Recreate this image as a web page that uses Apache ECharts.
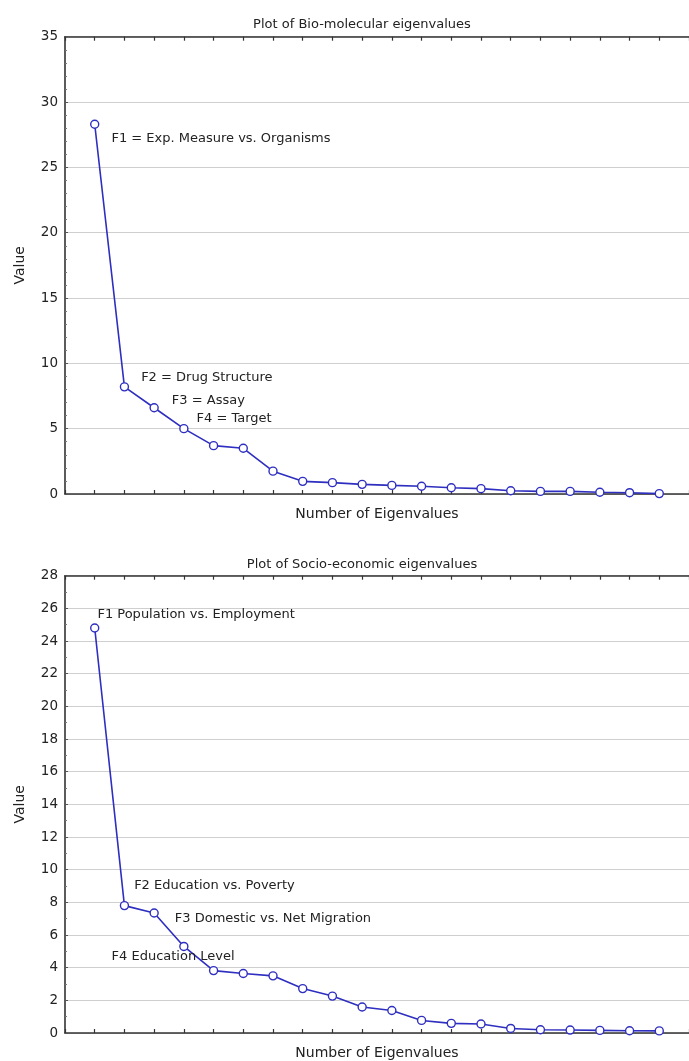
<!DOCTYPE html>
<html>
<head>
<meta charset="utf-8">
<script src="https://cdn.jsdelivr.net/npm/echarts@6/dist/echarts.min.js"></script>
<style>
html,body{margin:0;padding:0;background:#fff;}
#main{width:689px;height:1061px;}
</style>
</head>
<body>
<div id="main"></div>
<script>
// ---- data ----
const eigenNumbers = [1,2,3,4,5,6,7,8,9,10,11,12,13,14,15,16,17,18,19,20];
const bioValues = [28.3,8.2,6.6,5.0,3.7,3.5,1.75,0.97,0.87,0.74,0.66,0.59,0.48,0.41,0.25,0.2,0.2,0.13,0.1,0.03];
const socioValues = [24.8,7.8,7.35,5.3,3.82,3.64,3.5,2.72,2.26,1.59,1.38,0.77,0.59,0.55,0.28,0.2,0.18,0.16,0.14,0.13];
const bioTitle = 'Plot of Bio-molecular eigenvalues';
const socioTitle = 'Plot of Socio-economic eigenvalues';
const bioNotes = ['F1 = Exp. Measure vs. Organisms','F2 = Drug Structure','F3 = Assay','F4 = Target'];
const socioNotes = ['F1 Population vs. Employment','F2 Education vs. Poverty','F3 Domestic vs. Net Migration','F4 Education Level'];
const xName = 'Number of Eigenvalues';
const yName = 'Value';

// ---- styling / layout (not data) ----
const FONT = 'DejaVu Sans';
const TEXT = '#222';
const LINE = '#2e2ec0';
const bioOffsets = [[7,14],[7,-9],[8,-7],[3,-10]];
const socioOffsets = [[-7,-13],[0,-20],[11,6],[-82,10]];

function buildData(values, notes, offsets){
  return eigenNumbers.map((n,i)=>{
    const item = {value:[n, values[i]]};
    if (i < notes.length){
      item.label = {show:true, position:'right', formatter:notes[i], offset:offsets[i],
        color:TEXT, fontFamily:FONT, fontSize:13};
    }
    return item;
  });
}

const grids = [
  {left:65, top:36.7, height:457.3, right:-7},
  {left:65, top:575.7, height:458.6, right:-7}
];

function xAxes(gi){
  return [
    {type:'value', gridIndex:gi, position:'bottom', min:0, max:21, interval:1,
     axisLine:{show:true, lineStyle:{color:'#333', width:1.6}},
     axisTick:{show:true, inside:true, length:4, lineStyle:{color:'#333', width:1.2}},
     axisLabel:{show:false}, splitLine:{show:false},
     name:xName, nameLocation:'middle', nameGap:13,
     nameTextStyle:{color:TEXT, fontFamily:FONT, fontSize:14, verticalAlign:'top'}},
    {type:'value', gridIndex:gi, position:'top', min:0, max:21, interval:1,
     axisLine:{show:true, onZero:false, lineStyle:{color:'#333', width:1.6}},
     axisTick:{show:true, inside:true, length:4, lineStyle:{color:'#333', width:1.2}},
     axisLabel:{show:false}, splitLine:{show:false}}
  ];
}
function yAxis(gi, max, interval, minorSplit){
  return {type:'value', gridIndex:gi, min:0, max:max, interval:interval,
    axisLine:{show:true, lineStyle:{color:'#333', width:1.6}},
    axisTick:{show:true, inside:true, length:3, lineStyle:{color:'#555'}},
    minorTick:{show:true, splitNumber:minorSplit, length:2, lineStyle:{color:'#777'}},
    axisLabel:{color:TEXT, fontFamily:FONT, fontSize:13.5, margin:7},
    splitLine:{show:true, lineStyle:{color:'#cfcfcf', width:1.2}},
    name:yName, nameLocation:'middle', nameGap:38, nameRotate:90,
    nameTextStyle:{color:TEXT, fontFamily:FONT, fontSize:14}};
}

function lineSeries(xi, yi, data){
  return {type:'line', xAxisIndex:xi, yAxisIndex:yi, data:data,
    symbol:'circle', symbolSize:8, showAllSymbol:true,
    lineStyle:{color:LINE, width:1.6},
    itemStyle:{color:'#fff', borderColor:LINE, borderWidth:1.4},
    emphasis:{disabled:true}, animation:false, z:3};
}

const chart = echarts.init(document.getElementById('main'), null, {renderer:'canvas'});
chart.setOption({
  backgroundColor:'#fff',
  animation:false,
  title:[
    {text:bioTitle, left:357, top:13, textAlign:'center',
     textStyle:{color:TEXT, fontFamily:FONT, fontSize:13, fontWeight:'normal'}},
    {text:socioTitle, left:357, top:553, textAlign:'center',
     textStyle:{color:TEXT, fontFamily:FONT, fontSize:13, fontWeight:'normal'}}
  ],
  grid:grids,
  xAxis:[...xAxes(0), ...xAxes(1)],
  yAxis:[yAxis(0,35,5,5), yAxis(1,28,2,2)],
  series:[
    lineSeries(0,0,buildData(bioValues,bioNotes,bioOffsets)),
    lineSeries(2,1,buildData(socioValues,socioNotes,socioOffsets))
  ]
});
</script>
</body>
</html>
